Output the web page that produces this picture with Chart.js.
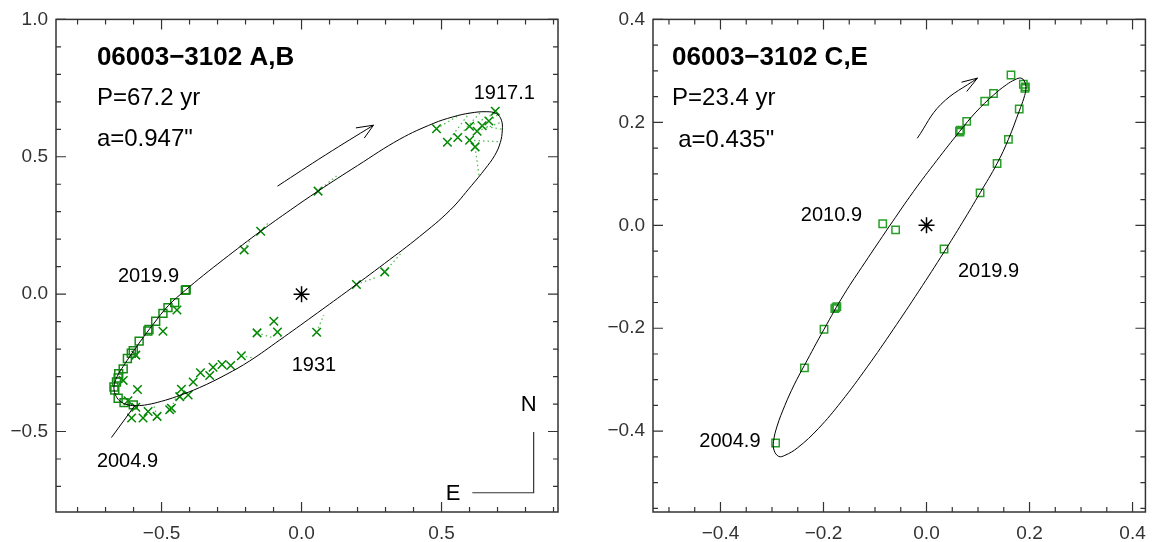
<!DOCTYPE html>
<html>
<head>
<meta charset="utf-8">
<script src="https://cdn.jsdelivr.net/npm/chart.js@4.4.1/dist/chart.umd.min.js"></script>
<style>
  body { margin: 0; background: #fff; }
  #wrap { position: relative; width: 1156px; height: 542px; }
  #chartAB { position: absolute; left: 0; top: 0; }
  #chartCE { position: absolute; left: 580px; top: 0; }
</style>
</head>
<body>
<div id="wrap">
  <canvas id="chartAB" width="580" height="542"></canvas>
  <canvas id="chartCE" width="576" height="542"></canvas>
</div>
<script>
// ---------- pair A,B (left panel) ----------
// orbit, starting mid lower branch so the join is on a flat part
const orbitAB = [
  [0.160,0.008],[0.041,-0.080],[-0.078,-0.167],[-0.185,-0.243],[-0.270,-0.293],[-0.364,-0.340],
  [-0.447,-0.373],[-0.500,-0.390],[-0.550,-0.402],[-0.590,-0.406],[-0.620,-0.403],[-0.645,-0.392],
  [-0.662,-0.372],[-0.670,-0.345],[-0.666,-0.318],[-0.655,-0.293],[-0.637,-0.263],[-0.610,-0.222],
  [-0.575,-0.171],[-0.530,-0.110],[-0.475,-0.041],[-0.415,0.014],[-0.350,0.069],[-0.280,0.125],
  [-0.210,0.180],[-0.146,0.229],[-0.040,0.306],[0.059,0.375],[0.200,0.468],[0.351,0.564],
  [0.470,0.621],[0.540,0.645],[0.601,0.659],[0.660,0.664],[0.696,0.657],[0.714,0.633],
  [0.717,0.597],[0.710,0.552],[0.690,0.505],[0.655,0.455],[0.607,0.395],[0.530,0.305],
  [0.422,0.210],[0.297,0.112],[0.160,0.008]
];
const tailAB = [[-0.679,-0.522],[-0.595,-0.405]];
const crossesAB = [
  [0.482,0.602],[0.521,0.553],[0.558,0.570],[0.600,0.611],[0.627,0.593],[0.645,0.613],
  [0.669,0.630],[0.692,0.666],[0.600,0.560],[0.620,0.536],
  [0.059,0.375],[-0.146,0.229],[-0.205,0.161],
  [0.297,0.081],[0.196,0.035],[-0.099,-0.099],[-0.159,-0.141],[-0.086,-0.138],[0.054,-0.139],
  [-0.215,-0.224],[-0.253,-0.260],[-0.284,-0.256],[-0.316,-0.266],[-0.328,-0.296],[-0.361,-0.286],
  [-0.387,-0.320],[-0.429,-0.346],[-0.435,-0.373],[-0.405,-0.367],[-0.465,-0.415],
  [-0.607,-0.451],[-0.566,-0.451],[-0.548,-0.427],[-0.516,-0.445],[-0.471,-0.421],[-0.586,-0.347],
  [-0.592,-0.412],[-0.620,-0.388],[-0.637,-0.314],
  [-0.495,-0.135],[-0.445,-0.058],[-0.592,-0.222]
];
const squaresAB = [
  [-0.415,0.014],[-0.412,0.016],[-0.453,-0.031],[-0.477,-0.049],[-0.495,-0.070],[-0.521,-0.099],
  [-0.545,-0.129],[-0.549,-0.134],[-0.580,-0.171],[-0.601,-0.206],[-0.608,-0.215],[-0.622,-0.234],
  [-0.637,-0.272],[-0.653,-0.290],[-0.655,-0.305],[-0.661,-0.320],[-0.670,-0.338],[-0.667,-0.349],
  [-0.655,-0.379],[-0.634,-0.395],[-0.601,-0.403]
];
// observed x,y -> orbit x,y
const residualsAB = [
  [0.482,0.602,0.560,0.650],[0.521,0.553,0.600,0.660],[0.558,0.570,0.640,0.663],
  [0.600,0.611,0.690,0.658],[0.627,0.593,0.712,0.625],[0.645,0.613,0.716,0.600],
  [0.600,0.560,0.705,0.555],[0.620,0.536,0.634,0.430],[0.669,0.630,0.700,0.652],
  [0.297,0.081,0.357,0.151],[0.196,0.035,0.267,0.061],[0.054,-0.139,0.079,-0.076],
  [-0.086,-0.138,-0.066,-0.165],[-0.159,-0.141,-0.102,-0.159],[0.059,0.375,0.125,0.430],
  [-0.146,0.229,-0.114,0.264],[-0.205,0.161,-0.179,0.204],[-0.215,-0.224,-0.175,-0.232],
  [-0.465,-0.415,-0.447,-0.373],[-0.516,-0.445,-0.530,-0.397]
];
const arrowAB = [[-0.086,0.393],[0.086,0.507],[0.257,0.615]];
const arrowHeadAB = [[0.194,0.605],[0.257,0.615],[0.224,0.568]];
const compassAB = [[0.829,-0.502],[0.829,-0.723],[0.610,-0.723]];
const notesAB = [
  {text: '06003\u22123102 A,B', x: -0.731, y: 0.834, size: 26, bold: true},
  {text: 'P=67.2 yr', x: -0.731, y: 0.6875, size: 24},
  {text: 'a=0.947"', x: -0.731, y: 0.5375, size: 24},
  {text: '1917.1', x: 0.615, y: 0.709, size: 20},
  {text: '2019.9', x: -0.656, y: 0.043, size: 20},
  {text: '1931', x: -0.035, y: -0.280, size: 20},
  {text: '2004.9', x: -0.731, y: -0.630, size: 20},
  {text: 'N', x: 0.783, y: -0.427, size: 22},
  {text: 'E', x: 0.515, y: -0.748, size: 22}
];
const rangeAB = {xMin: -0.877, xMax: 0.916, yMin: -0.793, yMax: 1.0};
const majorXAB = [-0.5, 0.0, 0.5];
const minorXAB = [-0.8,-0.7,-0.6,-0.4,-0.3,-0.2,-0.1,0.1,0.2,0.3,0.4,0.6,0.7,0.8,0.9];
const majorYAB = [-0.5, 0.0, 0.5, 1.0];
const minorYAB = [-0.7,-0.6,-0.4,-0.3,-0.2,-0.1,0.1,0.2,0.3,0.4,0.6,0.7,0.8,0.9];

// ---------- pair C,E (right panel) ----------
const orbitCE = [
  [-0.073,-0.003],[-0.025,0.066],[0.020,0.126],[0.064,0.182],[0.096,0.220],[0.130,0.253],
  [0.155,0.273],[0.172,0.283],[0.183,0.286],[0.190,0.280],[0.193,0.266],[0.189,0.247],
  [0.180,0.222],[0.159,0.167],[0.137,0.120],[0.104,0.063],[0.070,0.006],[0.034,-0.052],
  [-0.015,-0.128],[-0.065,-0.203],[-0.115,-0.275],[-0.165,-0.342],[-0.210,-0.395],[-0.250,-0.432],
  [-0.275,-0.447],[-0.287,-0.449],[-0.296,-0.437],[-0.297,-0.420],[-0.290,-0.390],[-0.275,-0.350],
  [-0.257,-0.310],[-0.237,-0.272],[-0.199,-0.202],[-0.160,-0.134],[-0.120,-0.073],[-0.073,-0.003]
];
const squaresCE = [
  [0.164,0.292],[0.188,0.274],[0.191,0.266],[0.192,0.269],[0.180,0.226],[0.159,0.167],
  [0.137,0.120],[0.104,0.063],[0.034,-0.046],[0.130,0.256],[0.113,0.241],[0.078,0.202],
  [0.064,0.183],[0.066,0.185],[0.065,0.181],[-0.085,0.003],[-0.060,-0.009],[-0.176,-0.160],
  [-0.178,-0.162],[-0.174,-0.158],[-0.199,-0.202],[-0.237,-0.277],[-0.293,-0.423]
];
const arrowCE = [[-0.018,0.169],[0.028,0.235],[0.099,0.286]];
const arrowHeadCE = [[0.068,0.278],[0.099,0.286],[0.078,0.260]];
const notesCE = [
  {text: '06003\u22123102 C,E', x: -0.494, y: 0.311, size: 26, bold: true},
  {text: 'P=23.4 yr', x: -0.494, y: 0.233, size: 24},
  {text: 'a=0.435"', x: -0.482, y: 0.153, size: 24},
  {text: '2010.9', x: -0.244, y: 0.008, size: 20},
  {text: '2019.9', x: 0.061, y: -0.101, size: 20},
  {text: '2004.9', x: -0.441, y: -0.431, size: 20}
];
const rangeCE = {xMin: -0.531, xMax: 0.425, yMin: -0.557, yMax: 0.4};
const majorXCE = [-0.4, -0.2, 0.0, 0.2, 0.4];
const minorXCE = [-0.5,-0.45,-0.35,-0.3,-0.25,-0.15,-0.1,-0.05,0.05,0.1,0.15,0.25,0.3,0.35];
const majorYCE = [-0.4, -0.2, 0.0, 0.2, 0.4];
const minorYCE = [-0.55,-0.5,-0.45,-0.35,-0.3,-0.25,-0.15,-0.1,-0.05,0.05,0.1,0.15,0.25,0.3,0.35];

const FONT = '"Liberation Sans", Arial, Helvetica, sans-serif';
const GREEN = 'rgb(0,135,0)';
const pts = arr => arr.map(p => ({x: p[0], y: p[1]}));

// frame, inward ticks on all four sides and the text notes
const framePlugin = {
  id: 'frame',
  afterDatasetsDraw(chart, args, opts) {
    const ctx = chart.ctx;
    const a = chart.chartArea;
    const sx = chart.scales.x, sy = chart.scales.y;
    ctx.save();
    ctx.strokeStyle = '#333';
    ctx.lineWidth = 1.5;
    ctx.strokeRect(a.left, a.top, a.right - a.left, a.bottom - a.top);
    ctx.lineWidth = 1.2;
    const tickX = (vals, len) => {
      vals.forEach(v => {
        const px = sx.getPixelForValue(v);
        ctx.beginPath();
        ctx.moveTo(px, a.bottom); ctx.lineTo(px, a.bottom - len);
        ctx.moveTo(px, a.top); ctx.lineTo(px, a.top + len);
        ctx.stroke();
      });
    };
    const tickY = (vals, len) => {
      vals.forEach(v => {
        const py = sy.getPixelForValue(v);
        ctx.beginPath();
        ctx.moveTo(a.left, py); ctx.lineTo(a.left + len, py);
        ctx.moveTo(a.right, py); ctx.lineTo(a.right - len, py);
        ctx.stroke();
      });
    };
    tickX(opts.majorX, 10); tickX(opts.minorX, 5);
    tickY(opts.majorY, 10); tickY(opts.minorY, 5);

    ctx.fillStyle = '#000';
    ctx.textBaseline = 'alphabetic';
    ctx.textAlign = 'left';
    opts.notes.forEach(n => {
      ctx.font = (n.bold ? 'bold ' : '') + n.size + 'px ' + FONT;
      ctx.fillText(n.text, sx.getPixelForValue(n.x), sy.getPixelForValue(n.y));
    });
    ctx.restore();
  }
};

function tickLabel(v) {
  return v < 0 ? '\u2212' + Math.abs(v).toFixed(1) : v.toFixed(1);
}

function makeOrbitChart(id, p) {
  const datasets = [
    {data: [{x: 0, y: 0}], pointStyle: 'star', pointRadius: 8, borderColor: '#000', borderWidth: 1.5, backgroundColor: '#000'},
    {data: pts(p.orbit), showLine: true, tension: 0.4, borderColor: '#000', borderWidth: 1, pointRadius: 0},
    {data: pts(p.arrow), showLine: true, tension: 0.4, borderColor: '#000', borderWidth: 1, pointRadius: 0},
    {data: pts(p.arrowHead), showLine: true, tension: 0, borderColor: '#000', borderWidth: 1, pointRadius: 0}
  ];
  if (p.tail) datasets.push({data: pts(p.tail), showLine: true, borderColor: '#000', borderWidth: 1, pointRadius: 0});
  if (p.compass) datasets.push({data: pts(p.compass), showLine: true, borderColor: '#333', borderWidth: 1.2, pointRadius: 0});
  if (p.residuals) {
    datasets.push({
      data: p.residuals.flatMap(r => [{x: r[0], y: r[1]}, {x: r[2], y: r[3]}, {x: null, y: null}]),
      showLine: true, spanGaps: false, borderColor: 'rgba(40,170,40,0.8)', borderWidth: 1.3,
      borderDash: [1.5, 3], pointRadius: 0
    });
  }
  if (p.squares) datasets.push({data: pts(p.squares), pointStyle: 'rect', pointRadius: p.squareR, borderColor: p.squareColor, borderWidth: 1.5, backgroundColor: 'rgba(0,0,0,0)'});
  if (p.crosses) datasets.push({data: pts(p.crosses), pointStyle: 'crossRot', pointRadius: 6, borderColor: GREEN, borderWidth: 1.5});

  return new Chart(document.getElementById(id), {
    type: 'scatter',
    data: {datasets: datasets},
    options: {
      responsive: false,
      animation: false,
      events: [],
      layout: {padding: {top: 10, right: p.padRight, left: 0, bottom: 0}},
      scales: {
        x: {
          type: 'linear', min: p.range.xMin, max: p.range.xMax,
          grid: {display: false, drawTicks: false}, border: {display: false},
          afterBuildTicks: s => { s.ticks = p.majorX.map(v => ({value: v})); },
          afterFit: s => { s.height = 30; },
          ticks: {callback: tickLabel, padding: 10, maxRotation: 0, color: '#333', font: {family: FONT, size: 19}}
        },
        y: {
          type: 'linear', min: p.range.yMin, max: p.range.yMax,
          grid: {display: false, drawTicks: false}, border: {display: false},
          afterBuildTicks: s => { s.ticks = p.majorY.map(v => ({value: v})); },
          afterFit: s => { s.width = p.yWidth; },
          ticks: {callback: tickLabel, padding: 8, color: '#333', font: {family: FONT, size: 19}}
        }
      },
      plugins: {
        legend: {display: false},
        tooltip: {enabled: false},
        frame: {majorX: p.majorX, minorX: p.minorX, majorY: p.majorY, minorY: p.minorY, notes: p.notes}
      }
    },
    plugins: [framePlugin]
  });
}

makeOrbitChart('chartAB', {
  orbit: orbitAB, tail: tailAB, crosses: crossesAB, squares: squaresAB, squareR: 5.6,
  squareColor: 'rgb(20,140,20)', residuals: residualsAB, arrow: arrowAB, arrowHead: arrowHeadAB,
  compass: compassAB, notes: notesAB, range: rangeAB,
  majorX: majorXAB, minorX: minorXAB, majorY: majorYAB, minorY: minorYAB,
  yWidth: 56, padRight: 22
});

makeOrbitChart('chartCE', {
  orbit: orbitCE, squares: squaresCE, squareR: 5.2, squareColor: 'rgb(40,160,40)',
  arrow: arrowCE, arrowHead: arrowHeadCE, notes: notesCE, range: rangeCE,
  majorX: majorXCE, minorX: minorXCE, majorY: majorYCE, minorY: minorYCE,
  yWidth: 73, padRight: 1
});
</script>
</body>
</html>
